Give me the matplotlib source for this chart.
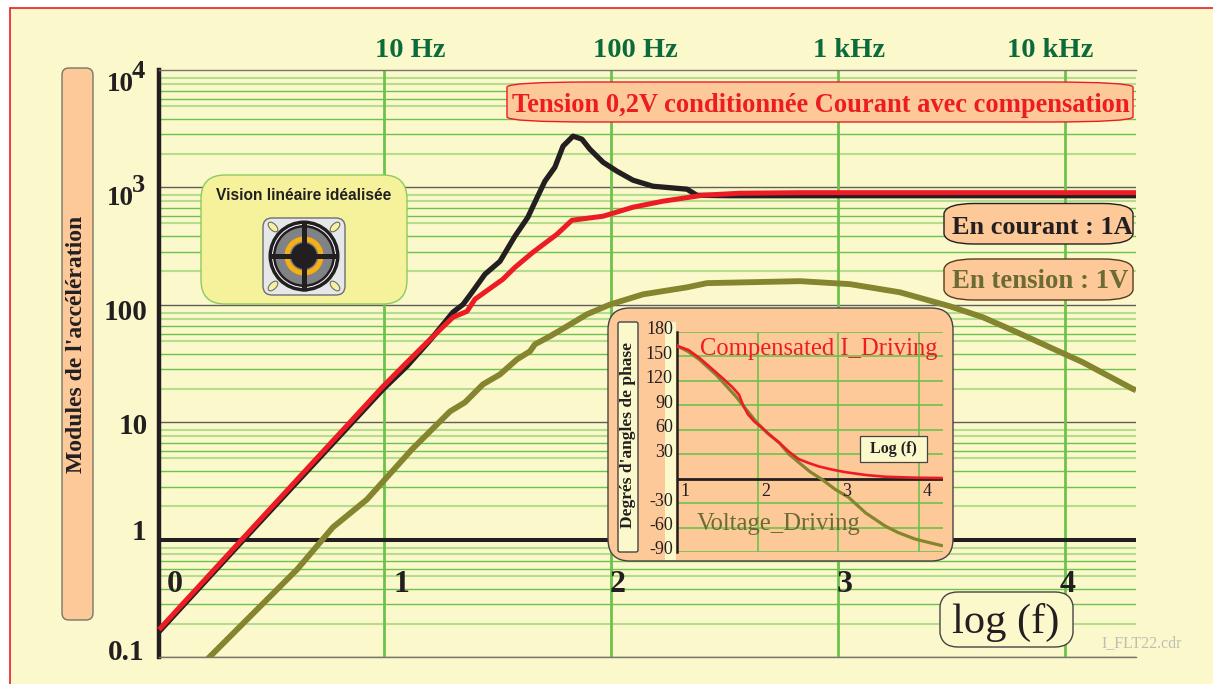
import matplotlib
matplotlib.use('Agg')
import matplotlib.pyplot as plt
import numpy as np
from matplotlib.patches import FancyBboxPatch, Rectangle, Circle, Ellipse, Wedge, PathPatch
from matplotlib.path import Path
from matplotlib.transforms import ScaledTranslation

plt.rcParams['font.family'] = ['Liberation Serif', 'DejaVu Serif']

# magnitude curves, x is log10(f), y is acceleration modulus
red_logf = [0.009, 0.374, 0.630, 0.996, 1.101, 1.203, 1.304, 1.366, 1.401, 1.524, 1.577, 1.656,
            1.762, 1.828, 1.965, 2.097, 2.229, 2.405, 2.568, 2.833, 4.313]
red_mod = [0.171, 1.0, 3.44, 20.1, 32.2, 50.5, 77.8, 87.5, 111, 164, 207, 278,
           396, 521, 564, 673, 757, 851, 885, 895, 895]

black_logf = [0.009, 0.374, 0.996, 1.101, 1.203, 1.304, 1.348, 1.388, 1.445, 1.511, 1.577, 1.634,
              1.665, 1.709, 1.753, 1.789, 1.833, 1.872, 1.907, 1.965, 2.026, 2.097, 2.185, 2.335,
              2.379, 2.524, 4.313]
black_mod = [0.164, 0.96, 19, 29.8, 49.6, 86, 100, 127, 181, 233, 381, 553,
             743, 1120, 1474, 2227, 2710, 2554, 2099, 1626, 1364, 1143, 1015, 958,
             850, 843, 843]

olive_logf = [0.211, 0.617, 0.775, 0.925, 1.123, 1.203, 1.291, 1.357, 1.436, 1.511, 1.586, 1.643,
              1.665, 1.731, 1.806, 1.894, 1.996, 2.141, 2.335, 2.423, 2.833, 3.053, 3.273, 3.493,
              3.639, 3.789, 3.934, 4.079, 4.295, 4.313]
olive_mod = [0.0912, 0.555, 1.27, 2.19, 5.84, 8.32, 12.3, 14.7, 20.9, 25.4, 34.1, 39.9,
             45.8, 53.6, 65.2, 82.5, 100, 122, 140, 152, 158, 149, 127, 96.6,
             77.8, 58, 43.2, 32.2, 19.3, 18.6]

# phase curves for the inset
phase_red_logf = [1.00, 1.14, 1.28, 1.42, 1.57, 1.69, 1.77, 1.82, 1.88, 1.96, 2.06, 2.16, 2.27, 2.39,
                  2.51, 2.64, 2.76, 2.93, 3.09, 3.34, 3.58, 3.95, 4.28]
phase_red = [163, 158, 148, 136, 123, 112, 103, 90, 79, 70, 62, 53, 44, 33,
             24, 19, 15, 11, 8, 4.5, 2.4, 1.2, 0.8]
phase_olive_logf = [1.00, 1.14, 1.28, 1.49, 1.61, 1.73, 1.85, 1.98, 2.12, 2.27, 2.39, 2.51, 2.65, 2.80,
                    2.96, 3.13, 3.34, 3.58, 3.74, 3.95, 4.11, 4.28]
phase_olive = [163, 156, 146, 127, 114, 101, 86, 70, 56, 44, 30, 20, 8.5, -1,
               -13, -23, -42, -58, -66, -74, -78, -82]

# grid of the main plot, the minor lines are not quite at 2..9 in the original
decades = [-1, 0, 1, 2, 3]
minor_offsets = [0.281, 0.451, 0.579, 0.690, 0.750, 0.818, 0.877, 0.928]
minor_light = [True, False, False, True, False, False, True, True]
freq_ticks = [1, 2, 3, 4]
freq_labels = ['10 Hz', '100 Hz', '1 kHz', '10 kHz']
phase_ticks = [-90, -60, -30, 30, 60, 90, 120, 150, 180]

CREAM = '#FBF8CC'
PEACH = '#FDC998'
GREEN = '#6CC24A'
LIGHT_GREEN = '#B4DE8C'
RED = '#ED1C24'
OLIVE = '#85842F'
DARK_OLIVE = '#6B6B33'
BLACK = '#231F20'
W, H = 1213, 684


def ax_px(left, top, right, bottom):
    return fig.add_axes([left / W, 1 - bottom / H, (right - left) / W, (bottom - top) / H])


fig = plt.figure(figsize=(W / 100, H / 100), dpi=100, facecolor='white')

# frame behind everything
back = ax_px(0, 0, W, H)
back.set_xlim(0, W)
back.set_ylim(H, 0)
back.axis('off')
back.add_patch(Rectangle((9.5, 8), W, H, fc=CREAM, ec=RED, lw=1.2))

# main chart
ax = ax_px(159, 69.5, 1136, 657)
ax.patch.set_alpha(0)
ax.set_xlim(0.009, 4.313)
ax.set_yscale('log')
ax.set_ylim(0.1, 1e4)
ax.set_xticks([])
ax.set_yticks([])
ax.minorticks_off()
ax.spines['right'].set_visible(False)
ax.spines['left'].set_linewidth(3.2)
ax.spines['left'].set_color(BLACK)
ax.spines['top'].set_linewidth(1)
ax.spines['top'].set_color('#77776A')
ax.spines['bottom'].set_linewidth(1)
ax.spines['bottom'].set_color('#77776A')

for d in decades:
    for off, light in zip(minor_offsets, minor_light):
        ax.axhline(10 ** (d + off), color=LIGHT_GREEN if light else GREEN,
                   lw=1.5 if light else 1.0, zorder=1)
for d in decades:
    if d != 0:
        ax.axhline(10.0 ** d, color='#5F5F55', lw=1.0, zorder=1.5)
ax.axhline(1, color=BLACK, lw=2.9, zorder=2)
for f in freq_ticks:
    ax.axvline(f, color=GREEN, lw=2.0, zorder=1.6)

ax.plot(olive_logf, olive_mod, color=OLIVE, lw=4.2, zorder=3, solid_capstyle='butt')
ax.plot(black_logf, black_mod, color=BLACK, lw=3.8, zorder=4, solid_capstyle='butt')
ax.plot(red_logf, red_mod, color=RED, lw=3.6, zorder=5, solid_capstyle='butt', clip_on=False)

# boxes, labels and the motor drawing, in pixel coordinates
over = ax_px(0, 0, W, H)
over.patch.set_alpha(0)
over.set_xlim(0, W)
over.set_ylim(H, 0)
over.axis('off')


def box(x0, y0, x1, y1, r, fc, ec, lw=1.0):
    over.add_patch(FancyBboxPatch((x0 + r, y0 + r), x1 - x0 - 2 * r, y1 - y0 - 2 * r,
                                  boxstyle='round,pad=%g,rounding_size=%g' % (r, r),
                                  fc=fc, ec=ec, lw=lw))


def soft_box(x0, y0, x1, y1, run, drop, fc, ec, lw=1.0):
    # long flat curves into the corners, like the labels on the original
    verts = [(x0, y0 + drop), (x0 + 2, y0), (x0 + run, y0), (x1 - run, y0), (x1 - 2, y0),
             (x1, y0 + drop), (x1, y1 - drop), (x1 - 2, y1), (x1 - run, y1), (x0 + run, y1),
             (x0 + 2, y1), (x0, y1 - drop), (x0, y0 + drop)]
    codes = [Path.MOVETO, Path.CURVE3, Path.CURVE3, Path.LINETO, Path.CURVE3, Path.CURVE3, Path.LINETO,
             Path.CURVE3, Path.CURVE3, Path.LINETO, Path.CURVE3, Path.CURVE3, Path.CLOSEPOLY]
    over.add_patch(PathPatch(Path(verts, codes), fc=fc, ec=ec, lw=lw))


box(62, 68, 93, 620, 7, PEACH, '#77776A')
over.text(76, 344, "Modules de l'accélération", rotation=90, ha='center', va='center',
          fontsize=17, fontweight='bold', color=BLACK)

for txt, x, y in [('0.1', 126, 653), ('1', 139, 533), ('10', 133, 426), ('100', 126, 312)]:
    over.text(x, y, txt, ha='center', va='center', fontsize=21, fontweight='bold', color=BLACK)
for exp, y in [('3', 198.5), ('4', 84.5)]:
    over.text(120, y, '10', ha='center', va='center', fontsize=19.5, fontweight='bold', color=BLACK)
    over.text(138, y - 13, exp, ha='center', va='center', fontsize=19, fontweight='bold', color=BLACK)

for txt, x in zip(['0', '1', '2', '3', '4'], [175, 401, 618, 845, 1068]):
    over.text(x, 585, txt, ha='center', va='center', fontsize=23, fontweight='bold', color=BLACK)
for txt, x in zip(freq_labels, [410, 635, 849, 1050]):
    over.text(x, 50.5, txt, ha='center', va='center', fontsize=20.5, fontweight='bold', color='#0B6B3A')

soft_box(507, 82, 1133, 122, 85, 5, PEACH, RED)
over.text(821, 105.5, 'Tension 0,2V conditionnée Courant avec compensation', ha='center', va='center',
          fontsize=19.1, fontweight='bold', color=RED)

soft_box(944, 203.5, 1133, 244, 30, 10, PEACH, BLACK)
over.text(1042, 227, 'En courant : 1A', ha='center', va='center', fontsize=19, fontweight='bold', color=BLACK)
soft_box(944, 259, 1133, 300, 30, 10, PEACH, '#5A3A20')
over.text(1040, 282, 'En tension : 1V', ha='center', va='center', fontsize=19.3, fontweight='bold', color=DARK_OLIVE)

soft_box(940, 592, 1073, 647, 18, 14, CREAM, '#444444')
over.text(1006, 622, 'log (f)', ha='center', va='center', fontsize=30.5, color=BLACK)
over.text(1142, 643, 'I_FLT22.cdr', ha='center', va='center', fontsize=11.5, color='#BDBDB5')

# linear motor badge
box(201, 175, 407, 304, 24, '#F6F19B', '#8CCB5E')
over.text(304, 195, 'Vision linéaire idéalisée', ha='center', va='center', fontsize=11.2, fontweight='bold',
          family=['Liberation Sans Narrow', 'Liberation Sans'], color=BLACK)
box(263, 218, 345, 295, 9, '#E6E7E8', '#6D6E71')
cx, cy = 304, 256
over.add_patch(Circle((cx, cy), 35.5, fc=BLACK, ec='none'))
over.add_patch(Circle((cx, cy), 32, fc='white', ec='none'))
over.add_patch(Circle((cx, cy), 31, fc=BLACK, ec='none'))
over.add_patch(Circle((cx, cy), 28.5, fc='#808285', ec='none'))
over.add_patch(Wedge((cx, cy), 19.5, 0, 360, width=5, fc='#F7B012', ec='none'))
over.add_patch(Circle((cx, cy), 13, fc=BLACK, ec='none'))
over.plot([cx - 34, cx + 34], [cy, cy], color=BLACK, lw=3.6, solid_capstyle='butt')
over.plot([cx, cx], [cy - 35, cy + 35], color=BLACK, lw=3.6, solid_capstyle='butt')
for dx, dy, ang in [(-31, -29, 45), (31, -29, -45), (-31, 30, -45), (31, 30, 45)]:
    over.add_patch(Ellipse((cx + dx, cy + dy), 12, 6.5, angle=ang, fc='#F6F19B', ec='#6D6E71', lw=0.8))

# phase inset
box(608, 308, 953, 561, 22, PEACH, '#444444')
over.add_patch(Rectangle((665, 322), 11, 238, fc=CREAM, ec='none'))
box(618, 322, 638, 552, 2, CREAM, '#444444')
over.text(628, 435, "Degrés d'angles de phase", rotation=90, ha='center', va='center',
          fontsize=12.5, fontweight='bold', color=BLACK)

inset = ax_px(677, 332, 943, 552)
inset.patch.set_alpha(0)
inset.set_xlim(1, 4.3)
inset.set_ylim(-90, 180)
for s in ['top', 'right', 'bottom']:
    inset.spines[s].set_visible(False)
inset.spines['left'].set_linewidth(1.8)
inset.spines['left'].set_color(BLACK)
inset.set_xticks([])
inset.set_yticks(phase_ticks)
inset.set_yticklabels([str(t) for t in phase_ticks], fontsize=13, color=BLACK)
inset.tick_params(axis='y', length=0, pad=3)
for lab in inset.get_yticklabels():
    lab.set_transform(lab.get_transform() + ScaledTranslation(0, 4 / 100, fig.dpi_scale_trans))
for t in phase_ticks:
    inset.axhline(t, color=GREEN, lw=1.2, zorder=1)
for f in [2, 3, 4]:
    inset.axvline(f, color=GREEN, lw=1.2, zorder=1)
inset.axhline(0, color=BLACK, lw=2, zorder=2)
inset.plot(phase_olive_logf, phase_olive, color=OLIVE, lw=2.3, zorder=3)
inset.plot(phase_red_logf, phase_red, color=RED, lw=1.9, zorder=4)
for f in [1, 2, 3, 4]:
    inset.text(f + 0.1, -16, str(f), ha='center', va='center', fontsize=13, color=BLACK)
inset.text(1.29, 159.5, 'Compensated I_Driving', ha='left', va='center', fontsize=17.7, color=RED)
inset.text(1.24, -55.5, 'Voltage_Driving', ha='left', va='center', fontsize=17.7, color=DARK_OLIVE)
inset.add_patch(Rectangle((860, 436), 67, 26, transform=over.transData, fc=CREAM, ec='#444444',
                          lw=0.9, zorder=5, clip_on=False))
inset.text(3.68, 36, 'Log (f)', ha='center', va='center', fontsize=11.5, fontweight='bold', color=BLACK, zorder=6)

fig.savefig('out.png', dpi=100)
